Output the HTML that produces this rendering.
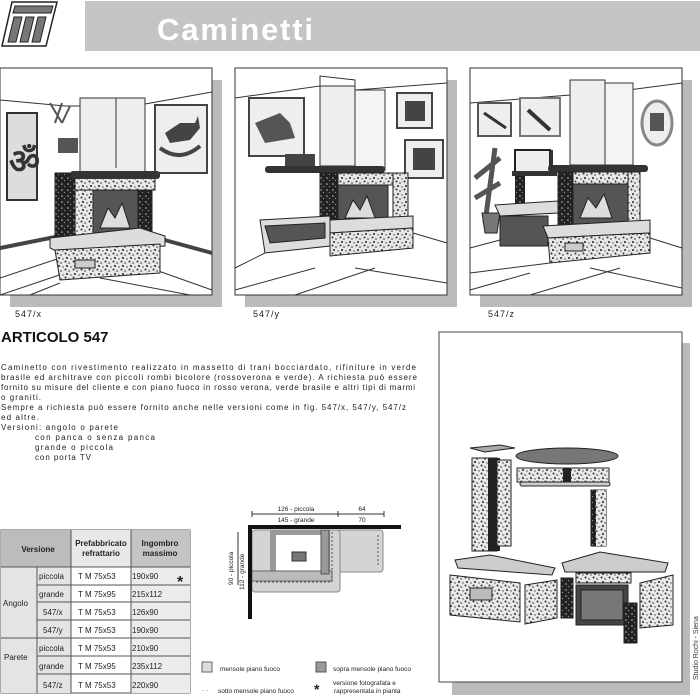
<!DOCTYPE html>
<html><head><meta charset="utf-8">
<style>
html,body{margin:0;padding:0;background:#fff;}
body{width:700px;height:700px;position:relative;overflow:hidden;font-family:"Liberation Sans",sans-serif;}
.abs{position:absolute;}
</style></head>
<body>
<svg class="abs" style="left:0;top:0" width="700" height="700" viewBox="0 0 700 700" font-family="Liberation Sans, sans-serif">
<defs>
<pattern id="gr" width="8" height="8" patternUnits="userSpaceOnUse">
<rect width="8" height="8" fill="#e8e8e8"/>
<circle cx="1.5" cy="1.5" r="1" fill="#333"/><circle cx="5" cy="3" r="0.9" fill="#555"/>
<circle cx="3" cy="6" r="1" fill="#222"/><circle cx="7" cy="7" r="0.7" fill="#444"/>
</pattern>
<pattern id="gd" width="6" height="6" patternUnits="userSpaceOnUse">
<rect width="6" height="6" fill="#222"/><circle cx="2" cy="2" r="0.8" fill="#bbb"/><circle cx="4.5" cy="4.5" r="0.6" fill="#999"/>
</pattern>
</defs>

<!-- header -->
<g>
<polygon points="12,2 57,2 46,46 2,46" fill="#fff" stroke="#222" stroke-width="1.5"/>
<polygon points="15,6 53,6 51,13 13,13" fill="#777" stroke="#222"/>
<polygon points="14,17 22,17 16,42 8,42" fill="#777" stroke="#222"/>
<polygon points="26,17 34,17 28,42 20,42" fill="#777" stroke="#222"/>
<polygon points="38,17 46,17 40,42 32,42" fill="#777" stroke="#222"/>
<rect x="85" y="1" width="615" height="50" fill="#c4c4c4"/>
<text x="157" y="40" font-size="31" font-weight="bold" fill="#fff" textLength="156" lengthAdjust="spacing">Caminetti</text>
</g>

<!-- three room scenes -->
<g transform="translate(0,68)">
<rect x="10" y="12" width="212" height="227" fill="#bbb"/>
<rect x="0" y="0" width="212" height="227" fill="#fff" stroke="#333"/>
<polyline points="0,32 65,38 80,38 80,30 145,30 145,36 212,24" fill="none" stroke="#333"/>
<rect x="80" y="30" width="65" height="90" fill="#eee" stroke="#333"/>
<line x1="116" y1="30" x2="116" y2="100" stroke="#333"/>
<rect x="7" y="45" width="30" height="87" fill="#ddd" stroke="#333" stroke-width="2"/>
<text x="9" y="105" font-size="34" font-weight="bold" fill="#333">ॐ</text>
<rect x="155" y="37" width="52" height="68" fill="#eee" stroke="#444" stroke-width="2"/>
<path d="M165,65 L180,55 L195,55 L198,48 L200,60 L190,72 L170,75 Z" fill="#444"/>
<path d="M160,80 Q180,95 200,78" stroke="#444" stroke-width="4" fill="none"/>
<path d="M0,180 L60,168 M150,168 L212,185" stroke="#444" stroke-width="4"/>
<path d="M0,210 L60,190 M0,227 L80,200 M150,200 L212,222 M100,210 L190,227 M30,227 L60,215" stroke="#333"/>
<path d="M50,35 L62,55 M62,35 L55,55 M70,38 L62,55" stroke="#555" stroke-width="2"/>
<rect x="58" y="70" width="20" height="15" fill="#555"/>
<rect x="55" y="105" width="20" height="70" fill="url(#gd)" stroke="#222"/>
<rect x="75" y="110" width="80" height="12" fill="url(#gr)" stroke="#222"/>
<rect x="70" y="103" width="90" height="8" rx="3" fill="#333"/>
<rect x="75" y="122" width="18" height="45" fill="url(#gr)" stroke="#222"/>
<rect x="93" y="122" width="45" height="45" fill="#555" stroke="#222"/>
<path d="M100,160 L108,140 L115,150 L122,135 L130,160 Z" fill="#ddd" stroke="#222"/>
<rect x="138" y="122" width="14" height="45" fill="url(#gd)" stroke="#222"/>
<polygon points="50,170 140,160 165,168 165,178 60,185 50,180" fill="#ddd" stroke="#222"/>
<polygon points="55,182 160,176 160,205 60,212" fill="url(#gr)" stroke="#222"/>
<rect x="75" y="192" width="20" height="8" fill="#ccc" stroke="#222"/>
</g>

<g transform="translate(235,68)">
<rect x="10" y="12" width="212" height="227" fill="#bbb"/>
<rect x="0" y="0" width="212" height="227" fill="#fff" stroke="#333"/>
<polyline points="0,30 85,18 85,8 120,12 120,22 212,15" fill="none" stroke="#333"/>
<rect x="85" y="18" width="35" height="80" fill="#eee" stroke="#333"/>
<rect x="120" y="22" width="30" height="80" fill="#f4f4f4" stroke="#333"/>
<rect x="14" y="30" width="55" height="58" fill="#eee" stroke="#444" stroke-width="2"/>
<path d="M20,55 L45,45 L55,55 L60,70 L30,75 Z" fill="#555"/>
<rect x="162" y="25" width="35" height="35" fill="#eee" stroke="#444" stroke-width="2"/>
<rect x="170" y="33" width="20" height="20" fill="#444"/>
<rect x="170" y="72" width="38" height="38" fill="#eee" stroke="#444" stroke-width="2"/>
<rect x="178" y="80" width="22" height="22" fill="#444"/>
<rect x="30" y="98" width="120" height="7" rx="3" fill="#333"/>
<rect x="50" y="86" width="30" height="12" fill="#444"/>
<rect x="85" y="105" width="18" height="55" fill="url(#gd)" stroke="#222"/>
<rect x="103" y="105" width="55" height="12" fill="url(#gr)" stroke="#222"/>
<rect x="103" y="117" width="50" height="40" fill="#555" stroke="#222"/>
<path d="M110,150 L118,132 L125,142 L132,128 L140,150 Z" fill="#ddd" stroke="#222"/>
<rect x="158" y="105" width="15" height="55" fill="url(#gr)" stroke="#222"/>
<polygon points="25,152 95,148 95,178 30,185" fill="#ddd" stroke="#222"/>
<polygon points="30,158 90,155 90,170 35,175" fill="#555" stroke="#222"/>
<polygon points="95,152 178,148 178,160 95,165" fill="#ddd" stroke="#222"/>
<polygon points="95,165 178,160 178,180 95,188" fill="url(#gr)" stroke="#222"/>
<path d="M0,200 L30,185 M178,165 L212,175 M0,222 L80,200 M120,200 L212,215 M60,227 L140,200" stroke="#333"/>
</g>

<g transform="translate(470,68)">
<rect x="10" y="12" width="212" height="227" fill="#bbb"/>
<rect x="0" y="0" width="212" height="227" fill="#fff" stroke="#333"/>
<polyline points="0,35 100,27 100,12 135,12 135,25 212,15" fill="none" stroke="#333"/>
<rect x="100" y="12" width="35" height="85" fill="#eee" stroke="#333"/>
<rect x="135" y="15" width="28" height="82" fill="#f4f4f4" stroke="#333"/>
<rect x="8" y="35" width="33" height="33" fill="#eee" stroke="#555" stroke-width="2"/>
<path d="M14,45 L36,60" stroke="#333" stroke-width="3"/>
<rect x="50" y="30" width="40" height="38" fill="#eee" stroke="#777" stroke-width="2"/>
<path d="M58,42 L80,62" stroke="#333" stroke-width="4"/>
<ellipse cx="187" cy="55" rx="15" ry="22" fill="#eee" stroke="#888" stroke-width="3"/>
<rect x="180" y="45" width="14" height="18" fill="#555"/>
<path d="M15,155 L25,80 M5,110 L30,90 M5,130 L30,115" stroke="#555" stroke-width="5"/>
<polygon points="12,145 30,145 27,165 15,165" fill="#777" stroke="#222"/>
<rect x="45" y="82" width="35" height="25" fill="#eee" stroke="#222" stroke-width="2"/>
<rect x="80" y="82" width="3" height="25" fill="#333"/>
<rect x="42" y="103" width="45" height="5" fill="#333"/>
<rect x="45" y="108" width="10" height="30" fill="url(#gd)"/>
<rect x="78" y="97" width="100" height="7" rx="3" fill="#333"/>
<rect x="88" y="104" width="15" height="55" fill="url(#gd)" stroke="#222"/>
<rect x="103" y="104" width="60" height="12" fill="url(#gr)" stroke="#222"/>
<rect x="103" y="116" width="55" height="40" fill="#555" stroke="#222"/>
<path d="M110,150 L118,130 L126,140 L134,126 L142,150 Z" fill="#ddd" stroke="#222"/>
<rect x="158" y="104" width="12" height="55" fill="url(#gr)" stroke="#222"/>
<polygon points="25,137 88,133 88,145 30,148" fill="#ddd" stroke="#222"/>
<rect x="30" y="148" width="48" height="30" fill="#555" stroke="#222"/>
<polygon points="73,158 180,152 180,165 78,170" fill="#ddd" stroke="#222"/>
<polygon points="78,170 180,165 180,185 80,195" fill="url(#gr)" stroke="#222"/>
<rect x="95" y="175" width="18" height="8" fill="#ccc" stroke="#222"/>
<path d="M0,180 L30,172 M180,170 L212,180 M0,205 L80,195 M0,222 L60,205 M120,200 L212,220 M60,227 L150,200" stroke="#333"/>
</g>

<text x="15" y="317" font-size="9" fill="#222" letter-spacing="1">547/x</text>
<text x="253" y="317" font-size="9" fill="#222" letter-spacing="1">547/y</text>
<text x="488" y="317" font-size="9" fill="#222" letter-spacing="1">547/z</text>

<!-- exploded panel -->
<rect x="452" y="343" width="238" height="352" fill="#bbb"/>
<rect x="439" y="332" width="243" height="350" fill="#fff" stroke="#444"/>
<polygon points="470,448 500,445 515,448 485,452" fill="#aaa" stroke="#222"/>
<rect x="472" y="458" width="25" height="93" fill="url(#gr)" stroke="#222"/>
<rect x="488" y="458" width="12" height="93" fill="#222"/>
<rect x="497" y="460" width="14" height="86" fill="url(#gr)" stroke="#222"/>
<ellipse cx="567" cy="456" rx="51" ry="8" fill="#777" stroke="#222"/>
<rect x="517" y="468" width="92" height="14" fill="url(#gr)" stroke="#222"/>
<rect x="563" y="468" width="8" height="14" fill="#222"/>
<rect x="520" y="482" width="90" height="4" rx="2" fill="#ccc" stroke="#222"/>
<rect x="591" y="490" width="15" height="56" fill="url(#gd)" stroke="#222"/>
<rect x="596" y="490" width="10" height="56" fill="url(#gr)"/>
<polygon points="455,560 490,555 555,568 552,575 458,568" fill="#ccc" stroke="#222"/>
<polygon points="450,575 520,583 520,622 450,615" fill="url(#gr)" stroke="#222"/>
<rect x="470" y="588" width="22" height="12" fill="#bbb" stroke="#222"/>
<polygon points="525,585 557,580 557,618 525,624" fill="url(#gr)" stroke="#222"/>
<polygon points="562,563 600,552 668,563 665,572 565,572" fill="#ccc" stroke="#222"/>
<rect x="561" y="578" width="12" height="40" fill="url(#gd)" stroke="#222"/>
<rect x="576" y="573" width="55" height="10" fill="url(#gr)" stroke="#222"/>
<rect x="576" y="585" width="52" height="40" fill="#444" stroke="#222"/>
<rect x="581" y="590" width="42" height="30" fill="#777" stroke="#222"/>
<rect x="624" y="603" width="13" height="40" fill="url(#gd)" stroke="#222"/>
<polygon points="640,583 673,575 673,625 640,628" fill="url(#gr)" stroke="#222"/>
<text transform="translate(698,680) rotate(-90)" font-size="7" fill="#333">Studio Rochi - Siena</text>

<!-- article title and text -->
<text x="1" y="342" font-size="15" font-weight="bold" fill="#111">ARTICOLO 547</text>
<g font-size="8" fill="#222">
<text x="1" y="370" textLength="415" lengthAdjust="spacing">Caminetto con rivestimento realizzato in massetto di trani bocciardato, rifiniture in verde</text>
<text x="1" y="380" textLength="416" lengthAdjust="spacing">brasile ed architrave con piccoli rombi bicolore (rossoverona e verde). A richiesta può essere</text>
<text x="1" y="390" textLength="414" lengthAdjust="spacing">fornito su misure del cliente e con piano fuoco in rosso verona, verde brasile e altri tipi di marmi</text>
<text x="1" y="400" textLength="40" lengthAdjust="spacing">o graniti.</text>
<text x="1" y="410" textLength="405" lengthAdjust="spacing">Sempre a richiesta può essere fornito anche nelle versioni come in fig. 547/x, 547/y, 547/z</text>
<text x="1" y="420" textLength="38" lengthAdjust="spacing">ed altre.</text>
<text x="1" y="430" textLength="117" lengthAdjust="spacing">Versioni: angolo o parete</text>
<text x="35" y="440" textLength="120" lengthAdjust="spacing">con panca o senza panca</text>
<text x="35" y="450" textLength="78" lengthAdjust="spacing">grande o piccola</text>
<text x="35" y="460" textLength="56" lengthAdjust="spacing">con porta TV</text>
</g>

<!-- table -->
<g font-size="8" fill="#222">
<rect x="1" y="530" width="189" height="163" fill="#fff" stroke="#555"/>
<rect x="1" y="530" width="70" height="37" fill="#bcbcbc"/>
<rect x="71" y="530" width="60" height="37" fill="#e8e8e8"/>
<rect x="131" y="530" width="59" height="37" fill="#c4c4c4"/>
<rect x="1" y="567" width="36" height="126" fill="#e4e4e4"/>
<rect x="37" y="567" width="34" height="126" fill="#e4e4e4"/>
<rect x="131" y="567" width="59" height="126" fill="#ececec"/>
<g stroke="#555" fill="none">
<line x1="1" y1="567" x2="190" y2="567"/>
<line x1="37" y1="567" x2="37" y2="693"/><line x1="71" y1="530" x2="71" y2="693"/><line x1="131" y1="530" x2="131" y2="693"/>
<line x1="37" y1="585" x2="190" y2="585"/><line x1="37" y1="602" x2="190" y2="602"/><line x1="37" y1="620" x2="190" y2="620"/>
<line x1="1" y1="638" x2="190" y2="638"/><line x1="37" y1="656" x2="190" y2="656"/><line x1="37" y1="674" x2="190" y2="674"/>
</g>
<g font-weight="bold" font-size="8" text-anchor="middle">
<text x="38" y="552">Versione</text>
<text x="101" y="546">Prefabbricato</text><text x="101" y="556">refrattario</text>
<text x="160" y="546">Ingombro</text><text x="160" y="556">massimo</text>
</g>
<text x="3" y="606">Angolo</text>
<text x="4" y="660">Parete</text>
<g>
<text x="39" y="579">piccola</text><text x="39" y="597">grande</text><text x="43" y="615">547/x</text><text x="43" y="633">547/y</text>
<text x="39" y="651">piccola</text><text x="39" y="669">grande</text><text x="43" y="688">547/z</text>
<text x="78" y="579">T M 75x53</text><text x="78" y="597">T M 75x95</text><text x="78" y="615">T M 75x53</text><text x="78" y="633">T M 75x53</text>
<text x="78" y="651">T M 75x53</text><text x="78" y="669">T M 75x95</text><text x="78" y="688">T M 75x53</text>
<text x="132" y="579">190x90</text><text x="132" y="597">215x112</text><text x="132" y="615">126x90</text><text x="132" y="633">190x90</text>
<text x="132" y="651">210x90</text><text x="132" y="669">235x112</text><text x="132" y="688">220x90</text>
</g>
<text x="177" y="587" font-size="16" font-weight="bold">*</text>
</g>

<!-- plan -->
<g>
<line x1="252" y1="514" x2="338" y2="514" stroke="#333"/><line x1="338" y1="514" x2="384" y2="514" stroke="#333"/>
<line x1="252" y1="511" x2="252" y2="517" stroke="#333"/><line x1="338" y1="511" x2="338" y2="517" stroke="#333"/><line x1="384" y1="511" x2="384" y2="517" stroke="#333"/>
<g font-size="6.5" fill="#222" text-anchor="middle">
<text x="296" y="511">126 - piccola</text><text x="296" y="522">145 - grande</text>
<text x="362" y="511">64</text><text x="362" y="522">70</text>
</g>
<rect x="323" y="530" width="60" height="42" rx="3" fill="#d4d4d4" stroke="#888"/>
<rect x="252" y="530" width="88" height="62" rx="3" fill="#d4d4d4" stroke="#888"/>
<rect x="270" y="530" width="60" height="50" fill="#999"/>
<rect x="276" y="535" width="45" height="38" fill="#fff"/>
<rect x="292" y="552" width="14" height="9" fill="#777" stroke="#333"/>
<rect x="252" y="571" width="80" height="10" fill="#bbb" stroke="#666"/>
<rect x="321" y="530" width="8" height="44" fill="#999" stroke="#555"/>
<path d="M332,532 L332,582 L256,582 M378,535 L378,565" stroke="#555" stroke-dasharray="2,2" fill="none"/>
<rect x="248" y="525" width="153" height="4" fill="#111"/>
<rect x="248" y="525" width="4" height="94" fill="#111"/>
<line x1="238" y1="532" x2="238" y2="585" stroke="#333"/>
<text transform="translate(233,585) rotate(-90)" font-size="6.5" fill="#222">90 - piccola</text>
<text transform="translate(244,590) rotate(-90)" font-size="6.5" fill="#222">112 - grande</text>
</g>

<!-- legend -->
<g font-size="6.5" fill="#222">
<rect x="202" y="662" width="10" height="10" fill="#ddd" stroke="#666"/>
<text x="220" y="671">mensole piano fuoco</text>
<rect x="316" y="662" width="10" height="10" fill="#999" stroke="#555"/>
<text x="333" y="671">sopra mensole piano fuoco</text>
<text x="202" y="692" fill="#999">- -</text>
<text x="218" y="693">sotto mensole piano fuoco</text>
<text x="314" y="694" font-size="14" font-weight="bold">*</text>
<text x="333" y="685">versione fotografata e</text>
<text x="334" y="693">rappresentata in pianta</text>
</g>
</svg>
</body></html>
